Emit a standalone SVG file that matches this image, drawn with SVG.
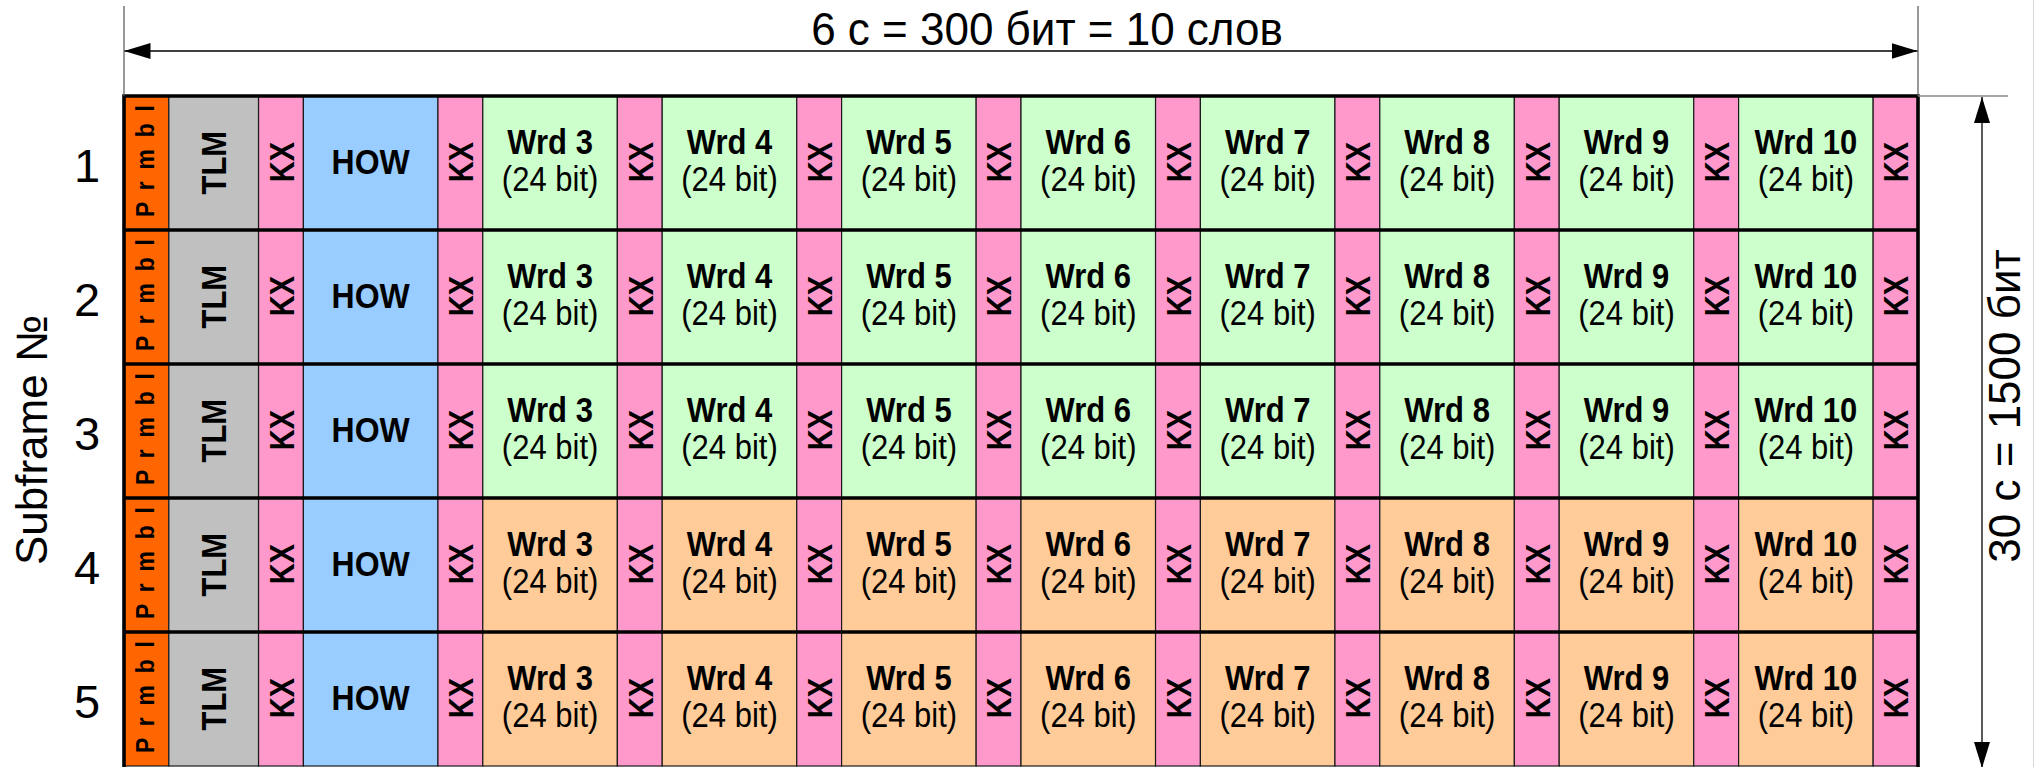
<svg xmlns="http://www.w3.org/2000/svg" width="2036" height="767" viewBox="0 0 2036 767">
<defs>
<style>
text{font-family:"Liberation Sans",Arial,sans-serif;fill:#000}
.c{stroke:#1a1a1a;stroke-width:1.2}
.pr{fill:#FF6600}.tl{fill:#C0C0C0}.kx{fill:#FF99CC}.hw{fill:#99CCFF}.g{fill:#CCFFCC}.o{fill:#FFCC99}
.pt{font-size:23px;font-weight:bold;text-anchor:middle}
.tt{font-size:31px;font-weight:bold;text-anchor:middle}
.kt{font-size:29px;font-weight:bold;text-anchor:middle}
.ht{font-size:32px;font-weight:bold;text-anchor:middle}
.wt{font-size:31px;font-weight:bold;text-anchor:middle}
.bt{font-size:31px;text-anchor:middle}
.num{font-size:47px;text-anchor:middle}
.big{font-size:44px;text-anchor:middle}
.thick{stroke:#000;stroke-width:3.6;fill:none}
.dim{stroke:#000;stroke-width:1.3;fill:none}
.ext{stroke:#555;stroke-width:1.2;fill:none}
</style>
<marker id="ah" markerUnits="userSpaceOnUse" markerWidth="26" markerHeight="16" refX="26" refY="8" orient="auto-start-reverse" viewBox="0 0 26 16">
<path d="M0,0 L26,8 L0,16 z" fill="#000"/>
</marker>
</defs>
<rect x="0" y="0" width="2036" height="767" fill="#fff"/>
<line x1="2033.5" y1="0" x2="2033.5" y2="767" stroke="#d8d8d8" stroke-width="1"/>

<g id="title"><text class="big" transform="translate(1047,45) scale(1,1.05)">6 с = 300 бит = 10 слов</text></g>
<g id="ylabel"><text class="big" transform="translate(47,440) rotate(-90)">Subframe №</text></g>
<g id="rlabel"><text class="big" transform="translate(2020,406) rotate(-90)">30 с = 1500 бит</text></g>

<g id="row1" transform="translate(0,96)">
<text class="num" x="87" y="86">1</text>
<g id="r1-prmbl"><rect class="c pr" x="124" y="0" width="44.85" height="134"/><text class="pt" textLength="112" lengthAdjust="spacing" transform="translate(154.3,65) rotate(-90) scale(1,1.12)">P r m b l</text></g>
<g id="r1-tlm"><rect class="c tl" x="168.85" y="0" width="89.7" height="134"/><text class="tt" transform="translate(225.5,66.7) rotate(-90) scale(1,1.12)">TLM</text></g>
<g id="r1-kx1"><rect class="c kx" x="258.55" y="0" width="44.85" height="134"/><text class="kt" transform="translate(293.8,66) rotate(-90) scale(1,1.2)">KX</text></g>
<g id="r1-how"><rect class="c hw" x="303.4" y="0" width="134.55" height="134"/><text class="ht" transform="translate(370.7,77.5) scale(1,1.08)">HOW</text></g>
<g id="r1-kx2"><rect class="c kx" x="437.95" y="0" width="44.85" height="134"/><text class="kt" transform="translate(473.2,66) rotate(-90) scale(1,1.2)">KX</text></g>
<g id="r1-wrd3"><rect class="c g" x="482.8" y="0" width="134.55" height="134"/><text class="wt" transform="translate(550.1,58) scale(1,1.12)">Wrd 3</text><text class="bt" transform="translate(550.1,95) scale(1,1.12)">(24 bit)</text></g>
<g id="r1-kx3"><rect class="c kx" x="617.35" y="0" width="44.85" height="134"/><text class="kt" transform="translate(652.6,66) rotate(-90) scale(1,1.2)">KX</text></g>
<g id="r1-wrd4"><rect class="c g" x="662.2" y="0" width="134.55" height="134"/><text class="wt" transform="translate(729.5,58) scale(1,1.12)">Wrd 4</text><text class="bt" transform="translate(729.5,95) scale(1,1.12)">(24 bit)</text></g>
<g id="r1-kx4"><rect class="c kx" x="796.75" y="0" width="44.85" height="134"/><text class="kt" transform="translate(832,66) rotate(-90) scale(1,1.2)">KX</text></g>
<g id="r1-wrd5"><rect class="c g" x="841.6" y="0" width="134.55" height="134"/><text class="wt" transform="translate(908.9,58) scale(1,1.12)">Wrd 5</text><text class="bt" transform="translate(908.9,95) scale(1,1.12)">(24 bit)</text></g>
<g id="r1-kx5"><rect class="c kx" x="976.15" y="0" width="44.85" height="134"/><text class="kt" transform="translate(1011.4,66) rotate(-90) scale(1,1.2)">KX</text></g>
<g id="r1-wrd6"><rect class="c g" x="1021" y="0" width="134.55" height="134"/><text class="wt" transform="translate(1088.3,58) scale(1,1.12)">Wrd 6</text><text class="bt" transform="translate(1088.3,95) scale(1,1.12)">(24 bit)</text></g>
<g id="r1-kx6"><rect class="c kx" x="1155.55" y="0" width="44.85" height="134"/><text class="kt" transform="translate(1190.8,66) rotate(-90) scale(1,1.2)">KX</text></g>
<g id="r1-wrd7"><rect class="c g" x="1200.4" y="0" width="134.55" height="134"/><text class="wt" transform="translate(1267.7,58) scale(1,1.12)">Wrd 7</text><text class="bt" transform="translate(1267.7,95) scale(1,1.12)">(24 bit)</text></g>
<g id="r1-kx7"><rect class="c kx" x="1334.95" y="0" width="44.85" height="134"/><text class="kt" transform="translate(1370.2,66) rotate(-90) scale(1,1.2)">KX</text></g>
<g id="r1-wrd8"><rect class="c g" x="1379.8" y="0" width="134.55" height="134"/><text class="wt" transform="translate(1447.1,58) scale(1,1.12)">Wrd 8</text><text class="bt" transform="translate(1447.1,95) scale(1,1.12)">(24 bit)</text></g>
<g id="r1-kx8"><rect class="c kx" x="1514.35" y="0" width="44.85" height="134"/><text class="kt" transform="translate(1549.6,66) rotate(-90) scale(1,1.2)">KX</text></g>
<g id="r1-wrd9"><rect class="c g" x="1559.2" y="0" width="134.55" height="134"/><text class="wt" transform="translate(1626.5,58) scale(1,1.12)">Wrd 9</text><text class="bt" transform="translate(1626.5,95) scale(1,1.12)">(24 bit)</text></g>
<g id="r1-kx9"><rect class="c kx" x="1693.75" y="0" width="44.85" height="134"/><text class="kt" transform="translate(1729,66) rotate(-90) scale(1,1.2)">KX</text></g>
<g id="r1-wrd10"><rect class="c g" x="1738.6" y="0" width="134.55" height="134"/><text class="wt" transform="translate(1805.9,58) scale(1,1.12)">Wrd 10</text><text class="bt" transform="translate(1805.9,95) scale(1,1.12)">(24 bit)</text></g>
<g id="r1-kx10"><rect class="c kx" x="1873.15" y="0" width="44.85" height="134"/><text class="kt" transform="translate(1908.4,66) rotate(-90) scale(1,1.2)">KX</text></g>
</g>

<g id="row2" transform="translate(0,230)">
<text class="num" x="87" y="86">2</text>
<g id="r2-prmbl"><rect class="c pr" x="124" y="0" width="44.85" height="134"/><text class="pt" textLength="112" lengthAdjust="spacing" transform="translate(154.3,65) rotate(-90) scale(1,1.12)">P r m b l</text></g>
<g id="r2-tlm"><rect class="c tl" x="168.85" y="0" width="89.7" height="134"/><text class="tt" transform="translate(225.5,66.7) rotate(-90) scale(1,1.12)">TLM</text></g>
<g id="r2-kx1"><rect class="c kx" x="258.55" y="0" width="44.85" height="134"/><text class="kt" transform="translate(293.8,66) rotate(-90) scale(1,1.2)">KX</text></g>
<g id="r2-how"><rect class="c hw" x="303.4" y="0" width="134.55" height="134"/><text class="ht" transform="translate(370.7,77.5) scale(1,1.08)">HOW</text></g>
<g id="r2-kx2"><rect class="c kx" x="437.95" y="0" width="44.85" height="134"/><text class="kt" transform="translate(473.2,66) rotate(-90) scale(1,1.2)">KX</text></g>
<g id="r2-wrd3"><rect class="c g" x="482.8" y="0" width="134.55" height="134"/><text class="wt" transform="translate(550.1,58) scale(1,1.12)">Wrd 3</text><text class="bt" transform="translate(550.1,95) scale(1,1.12)">(24 bit)</text></g>
<g id="r2-kx3"><rect class="c kx" x="617.35" y="0" width="44.85" height="134"/><text class="kt" transform="translate(652.6,66) rotate(-90) scale(1,1.2)">KX</text></g>
<g id="r2-wrd4"><rect class="c g" x="662.2" y="0" width="134.55" height="134"/><text class="wt" transform="translate(729.5,58) scale(1,1.12)">Wrd 4</text><text class="bt" transform="translate(729.5,95) scale(1,1.12)">(24 bit)</text></g>
<g id="r2-kx4"><rect class="c kx" x="796.75" y="0" width="44.85" height="134"/><text class="kt" transform="translate(832,66) rotate(-90) scale(1,1.2)">KX</text></g>
<g id="r2-wrd5"><rect class="c g" x="841.6" y="0" width="134.55" height="134"/><text class="wt" transform="translate(908.9,58) scale(1,1.12)">Wrd 5</text><text class="bt" transform="translate(908.9,95) scale(1,1.12)">(24 bit)</text></g>
<g id="r2-kx5"><rect class="c kx" x="976.15" y="0" width="44.85" height="134"/><text class="kt" transform="translate(1011.4,66) rotate(-90) scale(1,1.2)">KX</text></g>
<g id="r2-wrd6"><rect class="c g" x="1021" y="0" width="134.55" height="134"/><text class="wt" transform="translate(1088.3,58) scale(1,1.12)">Wrd 6</text><text class="bt" transform="translate(1088.3,95) scale(1,1.12)">(24 bit)</text></g>
<g id="r2-kx6"><rect class="c kx" x="1155.55" y="0" width="44.85" height="134"/><text class="kt" transform="translate(1190.8,66) rotate(-90) scale(1,1.2)">KX</text></g>
<g id="r2-wrd7"><rect class="c g" x="1200.4" y="0" width="134.55" height="134"/><text class="wt" transform="translate(1267.7,58) scale(1,1.12)">Wrd 7</text><text class="bt" transform="translate(1267.7,95) scale(1,1.12)">(24 bit)</text></g>
<g id="r2-kx7"><rect class="c kx" x="1334.95" y="0" width="44.85" height="134"/><text class="kt" transform="translate(1370.2,66) rotate(-90) scale(1,1.2)">KX</text></g>
<g id="r2-wrd8"><rect class="c g" x="1379.8" y="0" width="134.55" height="134"/><text class="wt" transform="translate(1447.1,58) scale(1,1.12)">Wrd 8</text><text class="bt" transform="translate(1447.1,95) scale(1,1.12)">(24 bit)</text></g>
<g id="r2-kx8"><rect class="c kx" x="1514.35" y="0" width="44.85" height="134"/><text class="kt" transform="translate(1549.6,66) rotate(-90) scale(1,1.2)">KX</text></g>
<g id="r2-wrd9"><rect class="c g" x="1559.2" y="0" width="134.55" height="134"/><text class="wt" transform="translate(1626.5,58) scale(1,1.12)">Wrd 9</text><text class="bt" transform="translate(1626.5,95) scale(1,1.12)">(24 bit)</text></g>
<g id="r2-kx9"><rect class="c kx" x="1693.75" y="0" width="44.85" height="134"/><text class="kt" transform="translate(1729,66) rotate(-90) scale(1,1.2)">KX</text></g>
<g id="r2-wrd10"><rect class="c g" x="1738.6" y="0" width="134.55" height="134"/><text class="wt" transform="translate(1805.9,58) scale(1,1.12)">Wrd 10</text><text class="bt" transform="translate(1805.9,95) scale(1,1.12)">(24 bit)</text></g>
<g id="r2-kx10"><rect class="c kx" x="1873.15" y="0" width="44.85" height="134"/><text class="kt" transform="translate(1908.4,66) rotate(-90) scale(1,1.2)">KX</text></g>
</g>

<g id="row3" transform="translate(0,364)">
<text class="num" x="87" y="86">3</text>
<g id="r3-prmbl"><rect class="c pr" x="124" y="0" width="44.85" height="134"/><text class="pt" textLength="112" lengthAdjust="spacing" transform="translate(154.3,65) rotate(-90) scale(1,1.12)">P r m b l</text></g>
<g id="r3-tlm"><rect class="c tl" x="168.85" y="0" width="89.7" height="134"/><text class="tt" transform="translate(225.5,66.7) rotate(-90) scale(1,1.12)">TLM</text></g>
<g id="r3-kx1"><rect class="c kx" x="258.55" y="0" width="44.85" height="134"/><text class="kt" transform="translate(293.8,66) rotate(-90) scale(1,1.2)">KX</text></g>
<g id="r3-how"><rect class="c hw" x="303.4" y="0" width="134.55" height="134"/><text class="ht" transform="translate(370.7,77.5) scale(1,1.08)">HOW</text></g>
<g id="r3-kx2"><rect class="c kx" x="437.95" y="0" width="44.85" height="134"/><text class="kt" transform="translate(473.2,66) rotate(-90) scale(1,1.2)">KX</text></g>
<g id="r3-wrd3"><rect class="c g" x="482.8" y="0" width="134.55" height="134"/><text class="wt" transform="translate(550.1,58) scale(1,1.12)">Wrd 3</text><text class="bt" transform="translate(550.1,95) scale(1,1.12)">(24 bit)</text></g>
<g id="r3-kx3"><rect class="c kx" x="617.35" y="0" width="44.85" height="134"/><text class="kt" transform="translate(652.6,66) rotate(-90) scale(1,1.2)">KX</text></g>
<g id="r3-wrd4"><rect class="c g" x="662.2" y="0" width="134.55" height="134"/><text class="wt" transform="translate(729.5,58) scale(1,1.12)">Wrd 4</text><text class="bt" transform="translate(729.5,95) scale(1,1.12)">(24 bit)</text></g>
<g id="r3-kx4"><rect class="c kx" x="796.75" y="0" width="44.85" height="134"/><text class="kt" transform="translate(832,66) rotate(-90) scale(1,1.2)">KX</text></g>
<g id="r3-wrd5"><rect class="c g" x="841.6" y="0" width="134.55" height="134"/><text class="wt" transform="translate(908.9,58) scale(1,1.12)">Wrd 5</text><text class="bt" transform="translate(908.9,95) scale(1,1.12)">(24 bit)</text></g>
<g id="r3-kx5"><rect class="c kx" x="976.15" y="0" width="44.85" height="134"/><text class="kt" transform="translate(1011.4,66) rotate(-90) scale(1,1.2)">KX</text></g>
<g id="r3-wrd6"><rect class="c g" x="1021" y="0" width="134.55" height="134"/><text class="wt" transform="translate(1088.3,58) scale(1,1.12)">Wrd 6</text><text class="bt" transform="translate(1088.3,95) scale(1,1.12)">(24 bit)</text></g>
<g id="r3-kx6"><rect class="c kx" x="1155.55" y="0" width="44.85" height="134"/><text class="kt" transform="translate(1190.8,66) rotate(-90) scale(1,1.2)">KX</text></g>
<g id="r3-wrd7"><rect class="c g" x="1200.4" y="0" width="134.55" height="134"/><text class="wt" transform="translate(1267.7,58) scale(1,1.12)">Wrd 7</text><text class="bt" transform="translate(1267.7,95) scale(1,1.12)">(24 bit)</text></g>
<g id="r3-kx7"><rect class="c kx" x="1334.95" y="0" width="44.85" height="134"/><text class="kt" transform="translate(1370.2,66) rotate(-90) scale(1,1.2)">KX</text></g>
<g id="r3-wrd8"><rect class="c g" x="1379.8" y="0" width="134.55" height="134"/><text class="wt" transform="translate(1447.1,58) scale(1,1.12)">Wrd 8</text><text class="bt" transform="translate(1447.1,95) scale(1,1.12)">(24 bit)</text></g>
<g id="r3-kx8"><rect class="c kx" x="1514.35" y="0" width="44.85" height="134"/><text class="kt" transform="translate(1549.6,66) rotate(-90) scale(1,1.2)">KX</text></g>
<g id="r3-wrd9"><rect class="c g" x="1559.2" y="0" width="134.55" height="134"/><text class="wt" transform="translate(1626.5,58) scale(1,1.12)">Wrd 9</text><text class="bt" transform="translate(1626.5,95) scale(1,1.12)">(24 bit)</text></g>
<g id="r3-kx9"><rect class="c kx" x="1693.75" y="0" width="44.85" height="134"/><text class="kt" transform="translate(1729,66) rotate(-90) scale(1,1.2)">KX</text></g>
<g id="r3-wrd10"><rect class="c g" x="1738.6" y="0" width="134.55" height="134"/><text class="wt" transform="translate(1805.9,58) scale(1,1.12)">Wrd 10</text><text class="bt" transform="translate(1805.9,95) scale(1,1.12)">(24 bit)</text></g>
<g id="r3-kx10"><rect class="c kx" x="1873.15" y="0" width="44.85" height="134"/><text class="kt" transform="translate(1908.4,66) rotate(-90) scale(1,1.2)">KX</text></g>
</g>

<g id="row4" transform="translate(0,498)">
<text class="num" x="87" y="86">4</text>
<g id="r4-prmbl"><rect class="c pr" x="124" y="0" width="44.85" height="134"/><text class="pt" textLength="112" lengthAdjust="spacing" transform="translate(154.3,65) rotate(-90) scale(1,1.12)">P r m b l</text></g>
<g id="r4-tlm"><rect class="c tl" x="168.85" y="0" width="89.7" height="134"/><text class="tt" transform="translate(225.5,66.7) rotate(-90) scale(1,1.12)">TLM</text></g>
<g id="r4-kx1"><rect class="c kx" x="258.55" y="0" width="44.85" height="134"/><text class="kt" transform="translate(293.8,66) rotate(-90) scale(1,1.2)">KX</text></g>
<g id="r4-how"><rect class="c hw" x="303.4" y="0" width="134.55" height="134"/><text class="ht" transform="translate(370.7,77.5) scale(1,1.08)">HOW</text></g>
<g id="r4-kx2"><rect class="c kx" x="437.95" y="0" width="44.85" height="134"/><text class="kt" transform="translate(473.2,66) rotate(-90) scale(1,1.2)">KX</text></g>
<g id="r4-wrd3"><rect class="c o" x="482.8" y="0" width="134.55" height="134"/><text class="wt" transform="translate(550.1,58) scale(1,1.12)">Wrd 3</text><text class="bt" transform="translate(550.1,95) scale(1,1.12)">(24 bit)</text></g>
<g id="r4-kx3"><rect class="c kx" x="617.35" y="0" width="44.85" height="134"/><text class="kt" transform="translate(652.6,66) rotate(-90) scale(1,1.2)">KX</text></g>
<g id="r4-wrd4"><rect class="c o" x="662.2" y="0" width="134.55" height="134"/><text class="wt" transform="translate(729.5,58) scale(1,1.12)">Wrd 4</text><text class="bt" transform="translate(729.5,95) scale(1,1.12)">(24 bit)</text></g>
<g id="r4-kx4"><rect class="c kx" x="796.75" y="0" width="44.85" height="134"/><text class="kt" transform="translate(832,66) rotate(-90) scale(1,1.2)">KX</text></g>
<g id="r4-wrd5"><rect class="c o" x="841.6" y="0" width="134.55" height="134"/><text class="wt" transform="translate(908.9,58) scale(1,1.12)">Wrd 5</text><text class="bt" transform="translate(908.9,95) scale(1,1.12)">(24 bit)</text></g>
<g id="r4-kx5"><rect class="c kx" x="976.15" y="0" width="44.85" height="134"/><text class="kt" transform="translate(1011.4,66) rotate(-90) scale(1,1.2)">KX</text></g>
<g id="r4-wrd6"><rect class="c o" x="1021" y="0" width="134.55" height="134"/><text class="wt" transform="translate(1088.3,58) scale(1,1.12)">Wrd 6</text><text class="bt" transform="translate(1088.3,95) scale(1,1.12)">(24 bit)</text></g>
<g id="r4-kx6"><rect class="c kx" x="1155.55" y="0" width="44.85" height="134"/><text class="kt" transform="translate(1190.8,66) rotate(-90) scale(1,1.2)">KX</text></g>
<g id="r4-wrd7"><rect class="c o" x="1200.4" y="0" width="134.55" height="134"/><text class="wt" transform="translate(1267.7,58) scale(1,1.12)">Wrd 7</text><text class="bt" transform="translate(1267.7,95) scale(1,1.12)">(24 bit)</text></g>
<g id="r4-kx7"><rect class="c kx" x="1334.95" y="0" width="44.85" height="134"/><text class="kt" transform="translate(1370.2,66) rotate(-90) scale(1,1.2)">KX</text></g>
<g id="r4-wrd8"><rect class="c o" x="1379.8" y="0" width="134.55" height="134"/><text class="wt" transform="translate(1447.1,58) scale(1,1.12)">Wrd 8</text><text class="bt" transform="translate(1447.1,95) scale(1,1.12)">(24 bit)</text></g>
<g id="r4-kx8"><rect class="c kx" x="1514.35" y="0" width="44.85" height="134"/><text class="kt" transform="translate(1549.6,66) rotate(-90) scale(1,1.2)">KX</text></g>
<g id="r4-wrd9"><rect class="c o" x="1559.2" y="0" width="134.55" height="134"/><text class="wt" transform="translate(1626.5,58) scale(1,1.12)">Wrd 9</text><text class="bt" transform="translate(1626.5,95) scale(1,1.12)">(24 bit)</text></g>
<g id="r4-kx9"><rect class="c kx" x="1693.75" y="0" width="44.85" height="134"/><text class="kt" transform="translate(1729,66) rotate(-90) scale(1,1.2)">KX</text></g>
<g id="r4-wrd10"><rect class="c o" x="1738.6" y="0" width="134.55" height="134"/><text class="wt" transform="translate(1805.9,58) scale(1,1.12)">Wrd 10</text><text class="bt" transform="translate(1805.9,95) scale(1,1.12)">(24 bit)</text></g>
<g id="r4-kx10"><rect class="c kx" x="1873.15" y="0" width="44.85" height="134"/><text class="kt" transform="translate(1908.4,66) rotate(-90) scale(1,1.2)">KX</text></g>
</g>

<g id="row5" transform="translate(0,632)">
<text class="num" x="87" y="86">5</text>
<g id="r5-prmbl"><rect class="c pr" x="124" y="0" width="44.85" height="134"/><text class="pt" textLength="112" lengthAdjust="spacing" transform="translate(154.3,65) rotate(-90) scale(1,1.12)">P r m b l</text></g>
<g id="r5-tlm"><rect class="c tl" x="168.85" y="0" width="89.7" height="134"/><text class="tt" transform="translate(225.5,66.7) rotate(-90) scale(1,1.12)">TLM</text></g>
<g id="r5-kx1"><rect class="c kx" x="258.55" y="0" width="44.85" height="134"/><text class="kt" transform="translate(293.8,66) rotate(-90) scale(1,1.2)">KX</text></g>
<g id="r5-how"><rect class="c hw" x="303.4" y="0" width="134.55" height="134"/><text class="ht" transform="translate(370.7,77.5) scale(1,1.08)">HOW</text></g>
<g id="r5-kx2"><rect class="c kx" x="437.95" y="0" width="44.85" height="134"/><text class="kt" transform="translate(473.2,66) rotate(-90) scale(1,1.2)">KX</text></g>
<g id="r5-wrd3"><rect class="c o" x="482.8" y="0" width="134.55" height="134"/><text class="wt" transform="translate(550.1,58) scale(1,1.12)">Wrd 3</text><text class="bt" transform="translate(550.1,95) scale(1,1.12)">(24 bit)</text></g>
<g id="r5-kx3"><rect class="c kx" x="617.35" y="0" width="44.85" height="134"/><text class="kt" transform="translate(652.6,66) rotate(-90) scale(1,1.2)">KX</text></g>
<g id="r5-wrd4"><rect class="c o" x="662.2" y="0" width="134.55" height="134"/><text class="wt" transform="translate(729.5,58) scale(1,1.12)">Wrd 4</text><text class="bt" transform="translate(729.5,95) scale(1,1.12)">(24 bit)</text></g>
<g id="r5-kx4"><rect class="c kx" x="796.75" y="0" width="44.85" height="134"/><text class="kt" transform="translate(832,66) rotate(-90) scale(1,1.2)">KX</text></g>
<g id="r5-wrd5"><rect class="c o" x="841.6" y="0" width="134.55" height="134"/><text class="wt" transform="translate(908.9,58) scale(1,1.12)">Wrd 5</text><text class="bt" transform="translate(908.9,95) scale(1,1.12)">(24 bit)</text></g>
<g id="r5-kx5"><rect class="c kx" x="976.15" y="0" width="44.85" height="134"/><text class="kt" transform="translate(1011.4,66) rotate(-90) scale(1,1.2)">KX</text></g>
<g id="r5-wrd6"><rect class="c o" x="1021" y="0" width="134.55" height="134"/><text class="wt" transform="translate(1088.3,58) scale(1,1.12)">Wrd 6</text><text class="bt" transform="translate(1088.3,95) scale(1,1.12)">(24 bit)</text></g>
<g id="r5-kx6"><rect class="c kx" x="1155.55" y="0" width="44.85" height="134"/><text class="kt" transform="translate(1190.8,66) rotate(-90) scale(1,1.2)">KX</text></g>
<g id="r5-wrd7"><rect class="c o" x="1200.4" y="0" width="134.55" height="134"/><text class="wt" transform="translate(1267.7,58) scale(1,1.12)">Wrd 7</text><text class="bt" transform="translate(1267.7,95) scale(1,1.12)">(24 bit)</text></g>
<g id="r5-kx7"><rect class="c kx" x="1334.95" y="0" width="44.85" height="134"/><text class="kt" transform="translate(1370.2,66) rotate(-90) scale(1,1.2)">KX</text></g>
<g id="r5-wrd8"><rect class="c o" x="1379.8" y="0" width="134.55" height="134"/><text class="wt" transform="translate(1447.1,58) scale(1,1.12)">Wrd 8</text><text class="bt" transform="translate(1447.1,95) scale(1,1.12)">(24 bit)</text></g>
<g id="r5-kx8"><rect class="c kx" x="1514.35" y="0" width="44.85" height="134"/><text class="kt" transform="translate(1549.6,66) rotate(-90) scale(1,1.2)">KX</text></g>
<g id="r5-wrd9"><rect class="c o" x="1559.2" y="0" width="134.55" height="134"/><text class="wt" transform="translate(1626.5,58) scale(1,1.12)">Wrd 9</text><text class="bt" transform="translate(1626.5,95) scale(1,1.12)">(24 bit)</text></g>
<g id="r5-kx9"><rect class="c kx" x="1693.75" y="0" width="44.85" height="134"/><text class="kt" transform="translate(1729,66) rotate(-90) scale(1,1.2)">KX</text></g>
<g id="r5-wrd10"><rect class="c o" x="1738.6" y="0" width="134.55" height="134"/><text class="wt" transform="translate(1805.9,58) scale(1,1.12)">Wrd 10</text><text class="bt" transform="translate(1805.9,95) scale(1,1.12)">(24 bit)</text></g>
<g id="r5-kx10"><rect class="c kx" x="1873.15" y="0" width="44.85" height="134"/><text class="kt" transform="translate(1908.4,66) rotate(-90) scale(1,1.2)">KX</text></g>
</g>

<g id="frame">
<path class="thick" d="M124,767 V96 H1918 V767"/>
<path class="thick" d="M124,230 H1918 M124,364 H1918 M124,498 H1918 M124,632 H1918"/>
</g>

<g id="connectors">
<line class="ext" x1="124" y1="6" x2="124" y2="96"/>
<line class="ext" x1="1918" y1="6" x2="1918" y2="96"/>
<line x1="1918" y1="96" x2="2008" y2="96" stroke="#888" stroke-width="1.3"/>
<line class="dim" x1="124.5" y1="51" x2="1917.5" y2="51" marker-start="url(#ah)" marker-end="url(#ah)"/>
<line class="dim" x1="1982" y1="97" x2="1982" y2="768" marker-start="url(#ah)" marker-end="url(#ah)"/>
</g>
</svg>
